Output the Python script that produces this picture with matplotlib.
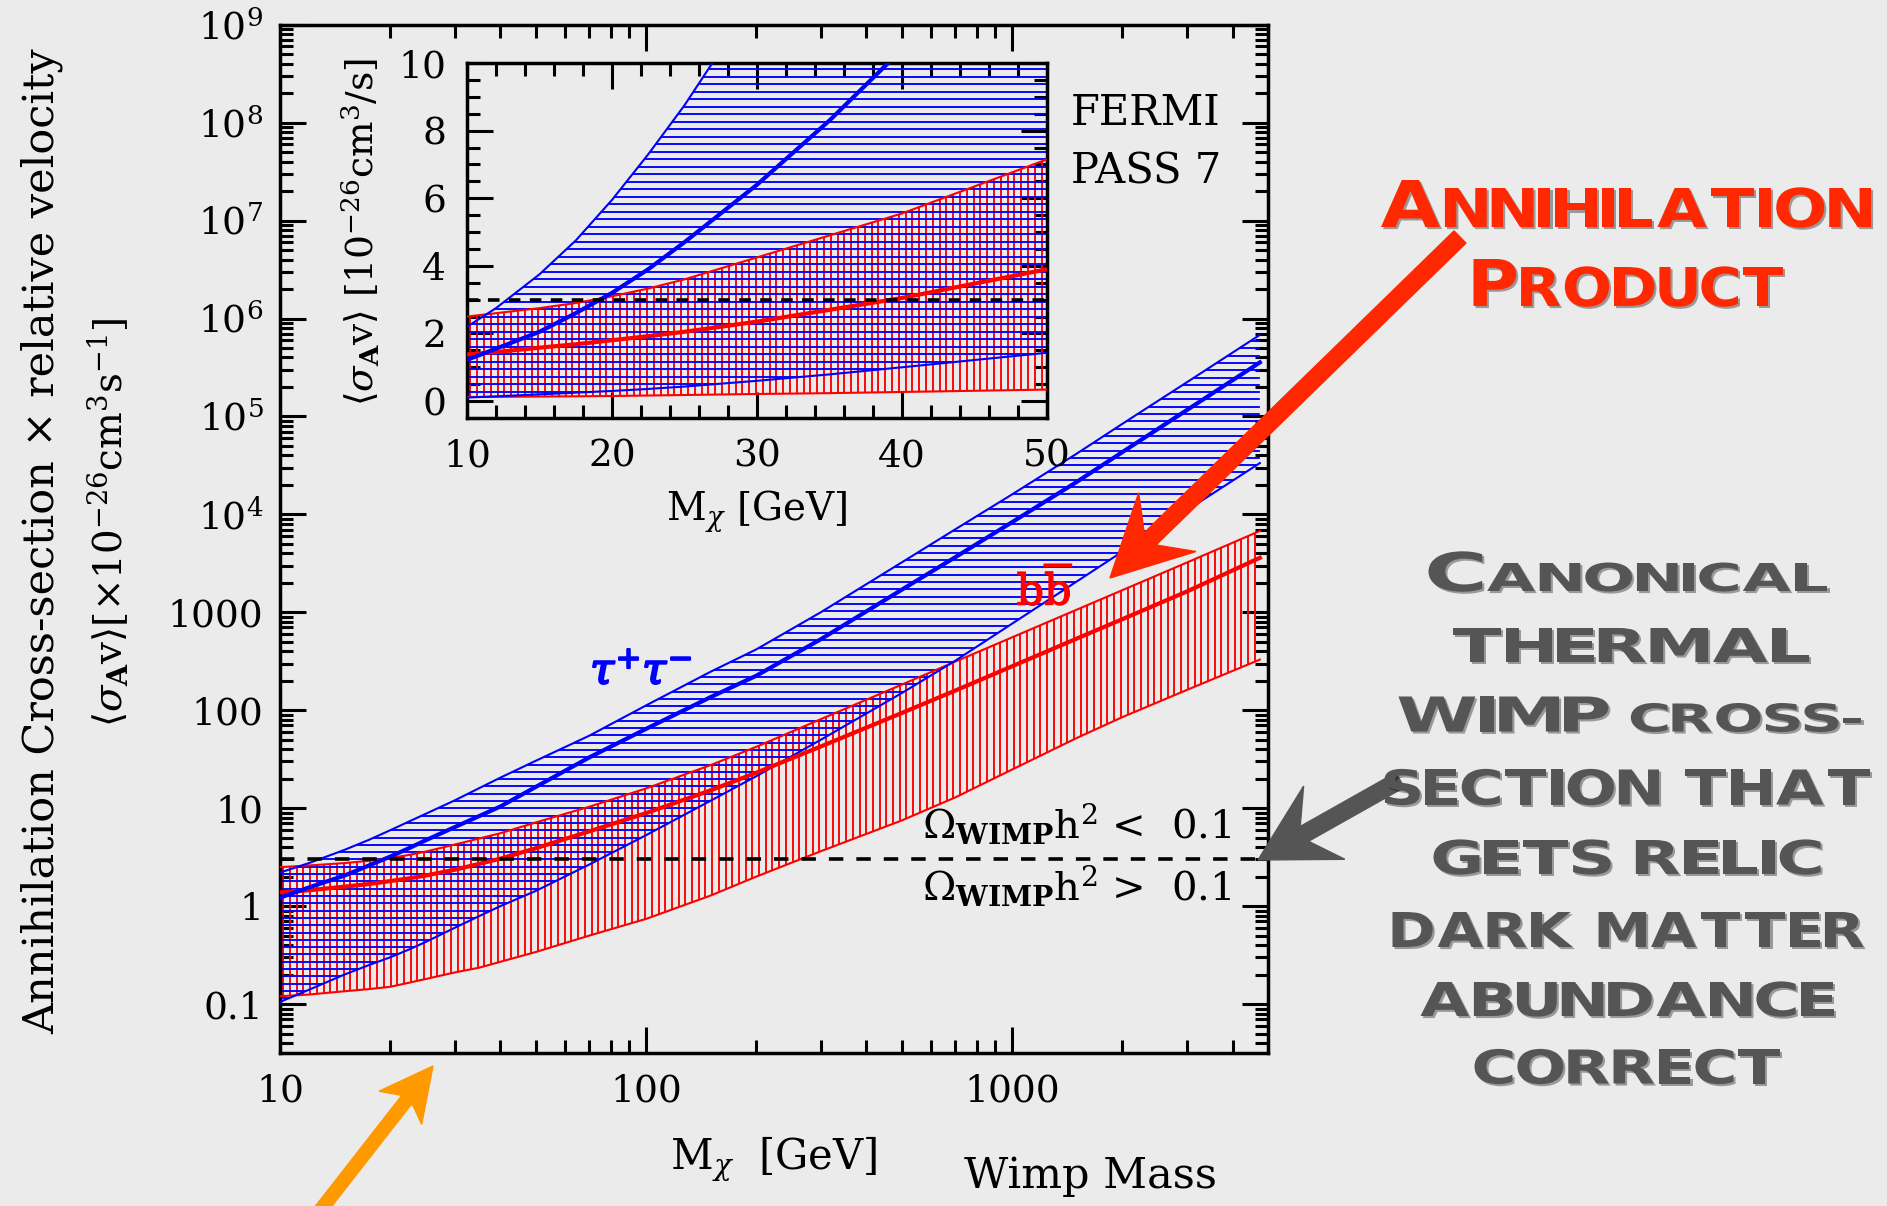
import numpy as np
import matplotlib
matplotlib.use('Agg')
import matplotlib.pyplot as plt
import matplotlib.patheffects as pe
from matplotlib.patches import Polygon, FancyArrow, PathPatch
from matplotlib.collections import LineCollection
from matplotlib.textpath import TextPath
from matplotlib.font_manager import FontProperties
from matplotlib.transforms import Affine2D
from matplotlib.ticker import LogLocator, MultipleLocator, NullFormatter

# WIMP mass [GeV] and the Fermi Pass 7 bands (upper / central / lower) in 1e-26 cm^3/s
mass = [10, 12, 15, 17.5, 20, 22.5, 25, 30, 35, 40, 50, 70, 100, 150, 200, 300, 500, 700, 1000,
        1500, 2000, 3000, 4750]
tau_hi = [2.2, 2.75, 3.75, 4.75, 5.95, 7.3, 8.75, 12.0, 16.0, 20.5, 30.5, 55.0, 112, 247, 418, 1000,
          3240, 7050, 1.6e4, 4.16e4, 8.4e4, 2.23e5, 6.8e5]
tau_mid = [1.22, 1.55, 2.05, 2.6, 3.2, 3.9, 4.7, 6.4, 8.3, 10.4, 16.5, 33.0, 64.5, 136, 225, 530,
           1705, 3660, 8330, 2.14e4, 4.32e4, 1.16e5, 3.56e5]
tau_lo = [0.105, 0.14, 0.2, 0.25, 0.3, 0.36, 0.43, 0.6, 0.79, 1.0, 1.43, 2.66, 5.3, 11.9, 21.2, 49.9,
          150, 321, 766, 2058, 4160, 1.1e4, 3.34e4]
bb_hi = [2.5, 2.6, 2.75, 2.9, 3.1, 3.33, 3.6, 4.25, 4.9, 5.55, 7.15, 10.35, 15.9, 27.5, 42.3, 81,
         183, 314, 555, 1062, 1682, 3218, 6770]
bb_mid = [1.38, 1.45, 1.58, 1.68, 1.8, 1.92, 2.05, 2.35, 2.7, 3.05, 3.9, 5.8, 8.9, 15.2, 23, 42.6,
          93.8, 159, 281, 538, 850, 1628, 3600]
bb_lo = [0.12, 0.125, 0.135, 0.142, 0.15, 0.165, 0.18, 0.21, 0.235, 0.27, 0.34, 0.5, 0.74, 1.28,
         2.0, 3.63, 7.5, 12.9, 24.8, 52, 85, 161, 329]
thermal = 3.0

main_xticks = [10, 100, 1000]
main_xlabels = ['10', '100', '1000']
main_yticks = [0.1, 1, 10, 100, 1000, 1e4, 1e5, 1e6, 1e7, 1e8, 1e9]
main_ylabels = ['0.1', '1', '10', '100', '1000'] + [r'$\mathregular{10^{%d}}$' % k for k in range(4, 10)]
inset_xticks = [10, 20, 30, 40, 50]
inset_yticks = [0, 2, 4, 6, 8, 10]

W, H = 1887, 1206
BG = '#ebebeb'
BLUE = '#0000ff'
RED = '#ff0000'

plt.rcParams['font.family'] = 'DejaVu Serif'
plt.rcParams['mathtext.fontset'] = 'dejavuserif'

fig = plt.figure(figsize=(W / 100, H / 100), dpi=100, facecolor=BG)
# pixel coordinates, origin at top-left
px = Affine2D().scale(1 / W, -1 / H).translate(0, 1) + fig.transFigure


def rect(l, t, r, b):
    return [l / W, 1 - b / H, (r - l) / W, (b - t) / H]


ax = fig.add_axes(rect(280, 24.7, 1268, 1053), facecolor='none')
ins = fig.add_axes(rect(467, 63, 1047, 418), facecolor='none')


def hatch(a, lo, hi, color, orient, step, size):
    x = np.array(mass, float)
    poly = Polygon(np.column_stack([np.r_[x, x[::-1]], np.r_[hi, lo[::-1]]]),
                   closed=True, transform=a.transData)
    pos = np.arange(step / 2, size, step) / size
    if orient == 'h':
        segs = [[(0, p), (1, p)] for p in pos]
    else:
        segs = [[(p, 0), (p, 1)] for p in pos]
    lc = LineCollection(segs, colors=color, linewidths=1.35, transform=a.transAxes, zorder=2)
    lc.set_clip_path(poly)
    a.add_collection(lc, autolim=False)


ax.set_xscale('log')
ax.set_yscale('log')
ax.set_xlim(10, 5000)
ax.set_ylim(10 ** -1.5, 1e9)
ins.set_xlim(10, 50)
ins.set_ylim(-0.5, 10)

for a, hstep, vstep, w, h, dash in [(ax, 7.3, 6.7, 988, 1028, (4.0, 3.6)),
                                     (ins, 7.5, 6.8, 580, 355, (3.2, 2.6))]:
    hatch(a, bb_lo, bb_hi, RED, 'v', vstep, w)
    hatch(a, tau_lo, tau_hi, BLUE, 'h', hstep, h)
    for lo, hi, mid, c in [(bb_lo, bb_hi, bb_mid, RED), (tau_lo, tau_hi, tau_mid, BLUE)]:
        a.plot(mass, hi, color=c, lw=1.5, zorder=3)
        a.plot(mass, lo, color=c, lw=1.5, zorder=3)
        a.plot(mass, mid, color=c, lw=3.0, zorder=4)
    a.axhline(thermal, color='k', lw=2.6, dashes=dash, zorder=5)

ax.set_xticks(main_xticks, main_xlabels)
ax.xaxis.set_minor_locator(LogLocator(subs=np.arange(2, 10), numticks=50))
ax.xaxis.set_minor_formatter(NullFormatter())
ax.set_yticks(main_yticks, main_ylabels)
ax.yaxis.set_minor_locator(LogLocator(subs=np.arange(2, 10), numticks=50))
ax.yaxis.set_minor_formatter(NullFormatter())

ins.set_xticks(inset_xticks)
ins.xaxis.set_minor_locator(MultipleLocator(2))
ins.set_yticks(inset_yticks)
ins.yaxis.set_minor_locator(MultipleLocator(0.5))

for a in (ax, ins):
    a.tick_params(which='both', direction='in', top=True, right=True, width=2.2, labelsize=27)
    a.tick_params(which='major', length=19)
    a.tick_params(which='minor', length=9.5)
    for s in a.spines.values():
        s.set_linewidth(2.5)
ax.tick_params(axis='y', pad=12)
ax.tick_params(axis='x', pad=15)
ins.tick_params(axis='both', pad=15)

ax.set_xlabel(r'M$_{\chi}$  [GeV]', fontsize=30, labelpad=18)
ins.set_xlabel(r'M$_{\chi}$ [GeV]', fontsize=28, labelpad=10)
fig.text(108, 522, r'$\langle\sigma_{\mathbf{A}}\mathrm{v}\rangle$[$\times$10$^{-26}$cm$^{3}$s$^{-1}$]',
         rotation=90, ha='center', va='center', fontsize=28, transform=px)
fig.text(42, 541, 'Annihilation Cross-section \u00d7 relative velocity',
         rotation=90, ha='center', va='center', fontsize=31, transform=px)
fig.text(361, 232, r'$\langle\sigma_{\mathbf{A}}\mathrm{v}\rangle$ [10$^{-26}$cm$^{3}$/s]',
         rotation=90, ha='center', va='center', fontsize=27, transform=px)

fig.text(1071, 125, 'FERMI', fontsize=30, va='baseline', transform=px)
fig.text(1071, 184, 'PASS 7', fontsize=30, va='baseline', transform=px)
fig.text(641, 672, r'$\tau^{+}\tau^{-}$', color=BLUE, fontsize=31, ha='center', va='center',
         transform=px, path_effects=[pe.withStroke(linewidth=1.6, foreground=BLUE)])
fig.text(1045, 590, r'$\mathrm{b\overline{b}}$', color=RED, fontsize=31, ha='center', va='center',
         transform=px, path_effects=[pe.withStroke(linewidth=0.9, foreground=RED)])
fig.text(1232, 838, r'$\Omega_{\mathbf{WIMP}}\mathrm{h}^{2}$ <  0.1', fontsize=29, ha='right', va='baseline',
         transform=px)
fig.text(1232, 900, r'$\Omega_{\mathbf{WIMP}}\mathrm{h}^{2}$ >  0.1', fontsize=29, ha='right', va='baseline',
         transform=px)
fig.text(1091, 1188, 'Wimp Mass', fontsize=31, ha='center', va='baseline', transform=px)

# arrows
fig.add_artist(FancyArrow(1400, 780, 1258 - 1400, 860 - 780, width=17, head_width=84, head_length=76,
                          overhang=0.3, length_includes_head=True, color='#555555', transform=px, zorder=5))
fig.add_artist(FancyArrow(1460, 237, 1110 - 1460, 578 - 237, width=17, head_width=82, head_length=80,
                          overhang=0.3, length_includes_head=True, color='#ff2800', transform=px, zorder=5))
fig.add_artist(FancyArrow(305, 1230, 433 - 305, 1066 - 1230, width=13, head_width=54, head_length=53,
                          overhang=0.2, length_includes_head=True, color='#ff9900', transform=px, zorder=5))

# small-caps annotation text
fp_caps = FontProperties(family='DejaVu Sans', weight='bold')
CAP = 0.729


def caps_line(pieces, xc, base, width, color, track=5.0):
    glyphs = []
    for txt, cap in pieces:
        for ch in txt:
            if ch == ' ':
                glyphs.append((None, 0.45 * cap, 0.0))
            else:
                tp = TextPath((0, 0), ch, size=cap / CAP, prop=fp_caps)
                e = tp.get_extents()
                glyphs.append((tp, e.x1 - e.x0, e.x0))
    spaces = sum(g[1] for g in glyphs if g[0] is None)
    natural = sum(g[1] for g in glyphs if g[0] is not None)
    stretch = (width - spaces - track * (len(glyphs) - 1)) / natural
    x = xc - width / 2
    for tp, w, x0 in glyphs:
        if tp is None:
            x += w + track
            continue
        tr = Affine2D().translate(-x0, 0).scale(stretch, -1).translate(x, base) + px
        patch = PathPatch(tp, transform=tr, facecolor=color, edgecolor='none', zorder=6,
                          path_effects=[pe.withSimplePatchShadow(offset=(1.5, -1.5),
                                                                 shadow_rgbFace='k', alpha=0.35)])
        fig.add_artist(patch)
        x += w * stretch + track


caps_line([('A', 47), ('NNIHILATION', 39)], 1626, 227, 490, '#ff2800')
caps_line([('P', 47), ('RODUCT', 39)], 1628, 306, 309, '#ff2800')

GRAY = '#555555'
caps_line([('C', 39), ('ANONICAL', 28)], 1628, 591, 399, GRAY)
caps_line([('THERMAL', 34)], 1631, 662, 356, GRAY)
caps_line([('WIMP', 35), (' CROSS-', 28)], 1630, 731.5, 463, GRAY)
caps_line([('SECTION THAT', 35)], 1627, 804.5, 485, GRAY)
caps_line([('GETS RELIC', 34)], 1627, 874, 387, GRAY)
caps_line([('DARK MATTER', 35)], 1628, 947, 471, GRAY)
caps_line([('ABUNDANCE', 34)], 1627, 1016, 413, GRAY)
caps_line([('CORRECT', 34)], 1627, 1083.5, 305, GRAY)

fig.savefig('out.png', dpi=100, facecolor=BG)
